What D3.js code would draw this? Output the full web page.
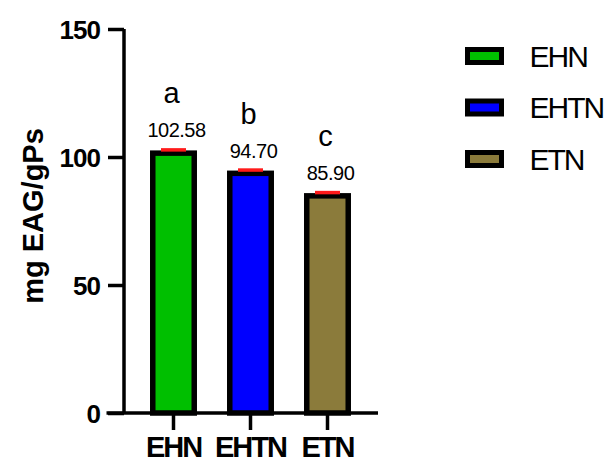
<!DOCTYPE html>
<html>
<head>
<meta charset="utf-8">
<script src="https://cdn.jsdelivr.net/npm/d3@7/dist/d3.min.js"></script>
<style>
  html, body { margin: 0; padding: 0; background: #fff; }
  svg { display: block; }
  text { font-family: "Liberation Sans", Arial, Helvetica, sans-serif; fill: #000; }
</style>
</head>
<body>
<svg id="chart" width="612" height="462"></svg>
<script>
// Total phenolic content per extract
const categories = ["EHN", "EHTN", "ETN"];
const values = [102.58, 94.70, 85.90];
const errors = [0.2, 0.2, 0.2];
const groupLetters = ["a", "b", "c"];
const barColors = ["#00bf00", "#0000ff", "#8b7b3b"];
const yTicks = [0, 50, 100, 150];
const yTitle = "mg EAG/gPs";

const svg = d3.select("#chart");

const y = d3.scaleLinear().domain([0, 150]).range([413, 29]);
const x = d3.scaleBand().domain(categories).range([135, 366]).padding(0);
const barW = x.bandwidth() * 0.61;   // outer width of each bar
const sw = 5.5;                      // bar outline width, drawn inside the bar
const cx = d => x(d) + x.bandwidth() / 2;

// Bars
svg.append("g").selectAll("rect")
  .data(categories)
  .join("rect")
  .attr("x", d => cx(d) - barW / 2 + sw / 2)
  .attr("y", (d, i) => y(values[i]) + sw / 2)
  .attr("width", barW - sw)
  .attr("height", (d, i) => y(0) - y(values[i]) - sw / 2)
  .attr("fill", (d, i) => barColors[i])
  .attr("stroke", "#000")
  .attr("stroke-width", sw);

// Error caps
svg.append("g").selectAll("line")
  .data(categories)
  .join("line")
  .attr("x1", d => cx(d) - 12.5)
  .attr("x2", d => cx(d) + 12.5)
  .attr("y1", (d, i) => y(values[i] + errors[i]))
  .attr("y2", (d, i) => y(values[i] + errors[i]))
  .attr("stroke", "#ff1a1a")
  .attr("stroke-width", 3.5);

// Value labels
svg.append("g").selectAll("text")
  .data(categories)
  .join("text")
  .attr("x", d => cx(d) + 3)
  .attr("y", (d, i) => y(values[i]) - 13)
  .attr("text-anchor", "middle")
  .attr("font-size", 20)
  .attr("letter-spacing", -0.5)
  .text((d, i) => values[i].toFixed(2));

// Significance letters
svg.append("g").selectAll("text")
  .data(categories)
  .join("text")
  .attr("x", d => cx(d) - 2)
  .attr("y", (d, i) => y(values[i]) - 47)
  .attr("text-anchor", "middle")
  .attr("font-size", 29)
  .text((d, i) => groupLetters[i]);

// Y axis
const yAxis = svg.append("g")
  .attr("transform", "translate(124,0)")
  .call(d3.axisLeft(y).tickValues(yTicks).tickSize(16).tickPadding(8));
yAxis.select(".domain").attr("d", `M0,${y(150)}V${y(0)}`).attr("stroke", "#000").attr("stroke-width", 3.5);
yAxis.selectAll(".tick line").attr("stroke", "#000").attr("stroke-width", 3.5);
yAxis.selectAll(".tick text")
  .attr("font-size", 26)
  .attr("font-weight", "bold")
  .attr("letter-spacing", -1)
  .attr("dy", "0.36em")
  .style("font-family", '"Liberation Sans", Arial, sans-serif');

// X axis
const xAxis = svg.append("g")
  .attr("transform", `translate(0,${y(0)})`)
  .call(d3.axisBottom(x).tickSize(17).tickPadding(6));
xAxis.select(".domain").attr("d", "M106.5,0H378").attr("stroke", "#000").attr("stroke-width", 3.5);
xAxis.selectAll(".tick line").attr("stroke", "#000").attr("stroke-width", 3.5);
xAxis.selectAll(".tick text")
  .attr("font-size", 29)
  .attr("font-weight", "bold")
  .attr("letter-spacing", -2)
  .attr("dy", "0.71em")
  .style("font-family", '"Liberation Sans", Arial, sans-serif');

// Y axis title
svg.append("text")
  .attr("transform", "translate(43,216) rotate(-90)")
  .attr("text-anchor", "middle")
  .attr("font-size", 29)
  .attr("font-weight", "bold")
  .text(yTitle);

// Legend
const legend = svg.append("g").selectAll("g")
  .data(categories)
  .join("g")
  .attr("transform", (d, i) => `translate(467.5,${49.5 + i * 51.5})`);
legend.append("rect")
  .attr("width", 34)
  .attr("height", 13)
  .attr("fill", (d, i) => barColors[i])
  .attr("stroke", "#000")
  .attr("stroke-width", 5);
legend.append("text")
  .attr("x", 62)
  .attr("y", 6.5)
  .attr("dy", "0.36em")
  .attr("font-size", 30)
  .attr("letter-spacing", -2)
  .text(d => d);
</script>
</body>
</html>
